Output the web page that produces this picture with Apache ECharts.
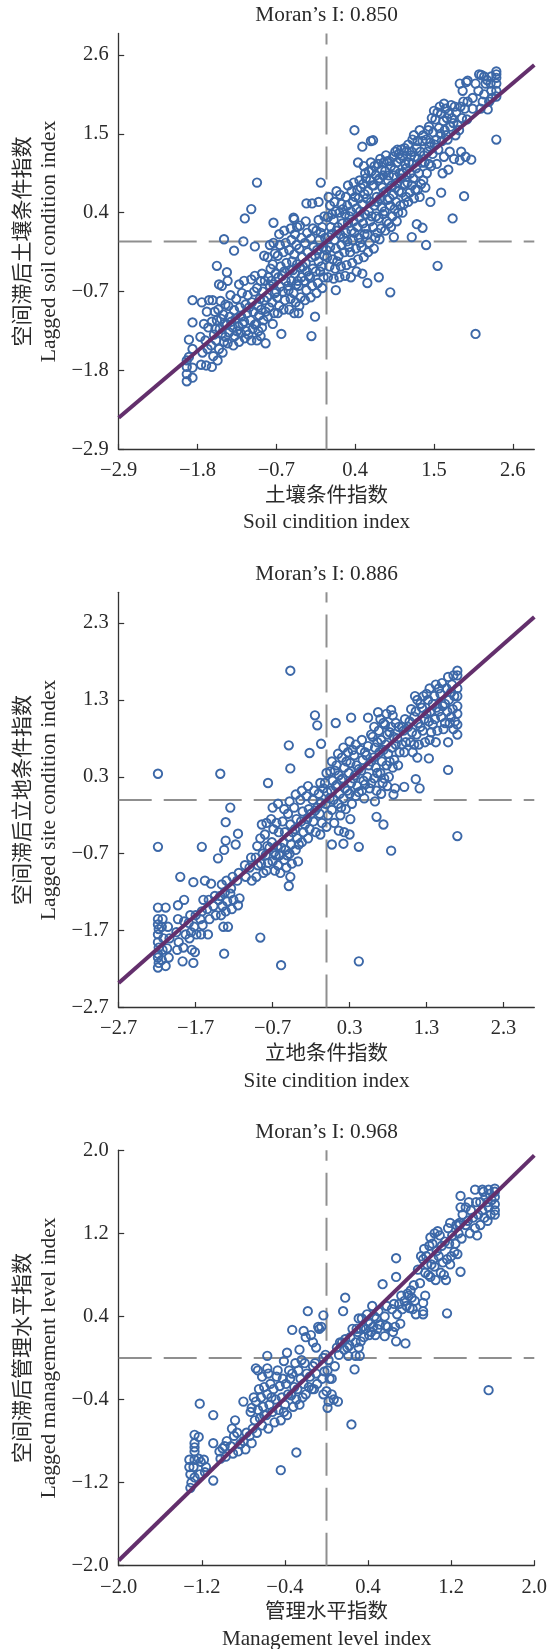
<!DOCTYPE html>
<html><head><meta charset="utf-8">
<script src="https://cdn.jsdelivr.net/npm/echarts@6/dist/echarts.min.js"></script>
<style>html,body{margin:0;padding:0;background:#fff}#c{width:556px;height:1649px}</style></head>
<body><div id="c"></div>
<script>
const soilTicks=[-2.9,-1.8,-0.7,0.4,1.5,2.6];
const siteTicks=[-2.7,-1.7,-0.7,0.3,1.3,2.3];
const mgmtTicks=[-2.0,-1.2,-0.4,0.4,1.2,2.0];
const soilLine=[[-2.9,-2.46],[2.9,2.46]];
const siteLine=[[-2.7,-2.38],[2.7,2.38]];
const mgmtLine=[[-2,-1.95],[2,1.95]];
const soilPoints=[[-0.97,0.82],[-0.08,0.82],[0.39,1.55],[0.5,1.32],[0.62,1.4],[0.65,1.41],[2.37,1.42],[2.08,-1.29],[1.55,-0.34],[0.89,-0.71],[0.73,-0.5],[0.57,-0.58],[0.13,-0.68],[-0.21,-1.32],[-0.16,-1.05],[1.76,0.32],[1.92,0.63],[1.6,0.68],[1.39,-0.05],[1.19,0.06],[0.94,0.06],[1.26,0.24],[1.34,0.19],[1.45,0.55],[-1.05,0.45],[-1.14,0.32],[-0.74,0.26],[-1.43,0.03],[-1.16,0],[-1.29,-0.13],[-1,-0.07],[-1.53,-0.34],[-1.39,-0.43],[-1.87,-0.82],[-1.87,-1.13],[-1.92,-1.37],[-0.63,-1.29],[-0.85,-1.42],[-0.39,-1],[-0.28,0.53],[-0.2,0.53],[-0.11,0.55],[-0.46,0.33],[-0.45,0.31],
[-1.95,-1.95],[-1.95,-1.85],[-1.95,-1.75],[-1.95,-1.66],[-1.87,-1.9],[-1.87,-1.76],[-1.92,-1.61],[-1.87,-1.5],
[-1.75,-1.72],[-1.73,-1.55],[-1.76,-1.33],[-1.71,-1.15],[-1.74,-0.85],[-1.68,-1.73],[-1.66,-1.5],[-1.69,-1.38],[-1.65,-1.2],[-1.67,-0.98],[-1.64,-0.82],[-1.6,-1.75],[-1.58,-1.6],[-1.61,-1.45],[-1.57,-1.3],[-1.6,-1.12],[-1.56,-0.98],[-1.59,-0.82],[-1.52,-1.66],[-1.5,-1.5],[-1.54,-1.38],[-1.49,-1.22],[-1.53,-1.1],[-1.51,-0.95],[-1.48,-0.83],[-1.5,-0.6],[-1.45,-1.55],[-1.43,-1.4],[-1.46,-1.28],[-1.42,-1.15],[-1.44,-1.02],[-1.41,-0.88],[-1.46,-0.62],
[-1.38,-1.42],[-1.36,-1.27],[-1.39,-1.16],[-1.35,-1.05],[-1.37,-0.9],[-1.34,-0.75],[-1.38,-0.55],[-1.3,-1.45],[-1.28,-1.32],[-1.31,-1.2],[-1.27,-1.08],[-1.29,-0.96],[-1.26,-0.8],[-1.22,-1.4],[-1.2,-1.28],[-1.23,-1.18],[-1.19,-1.05],[-1.21,-0.92],[-1.18,-0.72],[-1.22,-0.6],[-1.14,-1.35],[-1.12,-1.25],[-1.15,-1.12],[-1.11,-1],[-1.13,-0.88],[-1.1,-0.75],[-1.15,-0.55],[-1.05,-1.38],[-1.03,-1.22],[-1.06,-1.1],[-1.02,-0.98],[-1.04,-0.85],[-1.01,-0.7],[-1.05,-0.53],[-1.0,-0.48],[-0.97,-1.38],[-0.95,-1.25],[-0.98,-1.15],[-0.94,-1.03],[-0.96,-0.9],[-0.93,-0.8],[-0.97,-0.65],[-0.92,-0.55],
[-0.9,-1.2],[-0.88,-1.1],[-0.91,-0.95],[-0.87,-0.82],[-0.89,-0.7],[-0.86,-0.55],[-0.9,-0.45],[-0.87,-0.2],[-0.82,-1.05],[-0.8,-0.92],[-0.83,-0.78],[-0.79,-0.62],[-0.81,-0.5],[-0.78,-0.38],[-0.82,-0.22],[-0.79,-0.05],[-0.75,-1.15],[-0.73,-1],[-0.76,-0.85],[-0.72,-0.72],[-0.74,-0.6],[-0.71,-0.45],[-0.75,-0.32],[-0.72,-0.17],[-0.74,-0.02],[-0.68,-1],[-0.66,-0.9],[-0.69,-0.78],[-0.65,-0.63],[-0.67,-0.5],[-0.64,-0.35],[-0.68,-0.2],[-0.65,-0.05],[-0.66,0.1],[-0.6,-0.95],[-0.58,-0.82],[-0.61,-0.7],[-0.57,-0.55],[-0.59,-0.42],[-0.56,-0.3],[-0.6,-0.15],[-0.57,-0.02],[-0.59,0.15],
[-0.52,-0.95],[-0.5,-0.8],[-0.53,-0.68],[-0.49,-0.55],[-0.51,-0.4],[-0.48,-0.28],[-0.52,-0.12],[-0.49,0.02],[-0.5,0.18],[-0.45,-1],[-0.43,-0.85],[-0.46,-0.72],[-0.42,-0.6],[-0.44,-0.45],[-0.41,-0.32],[-0.45,-0.18],[-0.42,-0.05],[-0.44,0.1],[-0.41,0.2],[-0.38,-0.9],[-0.36,-0.78],[-0.39,-0.62],[-0.35,-0.5],[-0.37,-0.36],[-0.34,-0.22],[-0.38,-0.1],[-0.35,0.05],[-0.37,0.22],[-0.3,-0.82],[-0.28,-0.68],[-0.31,-0.55],[-0.27,-0.42],[-0.29,-0.3],[-0.26,-0.15],[-0.3,-0.02],[-0.27,0.12],[-0.29,0.28],[-0.22,-0.78],[-0.2,-0.62],[-0.23,-0.5],[-0.19,-0.38],[-0.21,-0.22],[-0.18,-0.08],[-0.22,0.04],[-0.19,0.18],
[-0.14,-0.72],[-0.12,-0.58],[-0.15,-0.42],[-0.11,-0.28],[-0.13,-0.12],[-0.1,0.02],[-0.14,0.15],[-0.11,0.3],[-0.06,-0.65],[-0.04,-0.5],[-0.07,-0.35],[-0.03,-0.2],[-0.05,-0.08],[-0.02,0.05],[-0.06,0.2],[-0.03,0.35],[0.02,-0.5],[0.04,-0.35],[0.01,-0.22],[0.05,-0.08],[0.03,0.06],[0.06,0.2],[0.02,0.34],[0.05,0.5],[0.03,0.62],[0.1,-0.52],[0.12,-0.38],[0.09,-0.25],[0.13,-0.1],[0.11,0.02],[0.14,0.15],[0.1,0.3],[0.13,0.42],[0.11,0.55],[0.14,0.7],[0.18,-0.5],[0.2,-0.35],[0.17,-0.2],[0.21,-0.05],[0.19,0.1],[0.22,0.25],[0.18,0.4],[0.21,0.52],[0.19,0.65],[0.26,-0.48],[0.28,-0.33],[0.25,-0.15],[0.29,0],[0.27,0.12],[0.3,0.26],[0.26,0.38],[0.29,0.5],[0.27,0.62],[0.3,0.78],
[0.34,-0.5],[0.36,-0.3],[0.33,-0.15],[0.37,0.02],[0.35,0.15],[0.38,0.28],[0.34,0.42],[0.37,0.55],[0.35,0.7],[0.38,0.82],[0.42,-0.42],[0.44,-0.25],[0.41,-0.1],[0.45,0.05],[0.43,0.2],[0.46,0.33],[0.42,0.46],[0.45,0.6],[0.43,0.72],[0.46,0.85],[0.44,1.1],[0.5,-0.45],[0.52,-0.22],[0.49,-0.08],[0.53,0.1],[0.51,0.25],[0.54,0.38],[0.5,0.52],[0.53,0.66],[0.51,0.8],[0.54,0.95],[0.52,1.05],[0.58,-0.15],[0.6,-0.02],[0.57,0.1],[0.61,0.28],[0.59,0.42],[0.62,0.55],[0.58,0.7],[0.61,0.85],[0.59,0.98],[0.62,1.1],[0.66,-0.1],[0.68,0.05],[0.65,0.2],[0.69,0.35],[0.67,0.5],[0.7,0.62],[0.66,0.78],[0.69,0.92],[0.67,1.05],
[0.74,0.03],[0.76,0.18],[0.73,0.32],[0.77,0.47],[0.75,0.6],[0.78,0.75],[0.74,0.88],[0.77,1],[0.75,1.15],[0.82,0.15],[0.84,0.28],[0.81,0.42],[0.85,0.58],[0.83,0.7],[0.86,0.85],[0.82,0.98],[0.85,1.12],[0.83,1.2],[0.9,0.2],[0.92,0.35],[0.89,0.5],[0.93,0.65],[0.91,0.78],[0.94,0.92],[0.9,1.05],[0.93,1.18],[0.98,0.28],[1,0.4],[0.97,0.55],[1.01,0.7],[0.99,0.82],[1.02,0.95],[0.98,1.1],[1.01,1.22],[0.99,1.28],[1.06,0.4],[1.08,0.52],[1.05,0.68],[1.09,0.8],[1.07,0.95],[1.1,1.08],[1.06,1.2],[1.09,1.3],[1.14,0.55],[1.16,0.68],[1.13,0.82],[1.17,0.95],[1.15,1.1],[1.18,1.2],[1.14,1.35],
[1.22,0.6],[1.24,0.72],[1.21,0.88],[1.25,1.02],[1.23,1.18],[1.26,1.3],[1.22,1.48],[1.3,0.62],[1.32,0.8],[1.29,0.95],[1.33,1.1],[1.31,1.25],[1.34,1.4],[1.3,1.55],[1.38,0.75],[1.4,0.95],[1.37,1.1],[1.41,1.25],[1.39,1.42],[1.42,1.55],[1.46,1.05],[1.48,1.22],[1.45,1.38],[1.49,1.52],[1.47,1.72],[1.5,1.82],[1.54,1.08],[1.56,1.28],[1.53,1.42],[1.57,1.58],[1.55,1.8],[1.58,1.88],[1.62,0.95],[1.64,1.18],[1.61,1.4],[1.65,1.55],[1.63,1.68],[1.66,1.85],[1.64,1.92],[1.7,1],[1.72,1.25],[1.69,1.42],[1.73,1.6],[1.71,1.78],[1.74,1.9],[1.78,1.15],[1.8,1.48],[1.77,1.65],[1.81,1.8],[1.79,1.88],[1.86,1.13],[1.88,1.25],[1.85,1.55],[1.89,1.72],[1.87,1.88],[1.9,2.1],[1.86,2.2],[1.94,1.18],[1.96,1.7],[1.93,1.85],[1.97,1.95],[1.95,2.22],[1.97,2.24],[2.02,1.14],[2.04,1.85],[2.04,2],[2.12,2.1],[2.13,2.33],[2.16,2.32],[2.15,1.85],[2.2,2.05],[2.22,2.2],[2.2,2.3],[2.24,2.25],[2.25,1.84],[2.3,2.1],[2.31,2],[2.29,2.2],[2.3,2.3],[2.37,2.02],[2.37,2.1],[2.37,2.2],[2.37,2.28],[2.37,2.33],[2.37,2.37]];
const soilDense=[[-1.55,-1.22],[-1.47,-1.08],[-1.41,-1.33],[-1.33,-1.12],[-1.25,-1.25],[-1.17,-1.15],[-1.09,-1.3],[-1.08,-0.92],[-1,-1.16],[-0.92,-1.32],[-0.85,-0.98],[-0.77,-0.55],[-0.7,-0.7],[-0.62,-0.48],[-0.54,-0.62],[-0.47,-0.4],[-0.4,-0.55],[-0.33,-0.35],[-0.25,-0.48],[-0.16,-0.2],[-0.09,-0.42],[-0.08,0.12],[0,-0.12],[0.07,0.1],[0.08,0.38],[0.15,-0.28],[0.16,0.2],[0.23,0.45],[0.24,0.05],[0.31,-0.08],[0.32,0.35],[0.39,0.12],[0.4,0.62],[0.47,-0.02],[0.47,0.42],[0.48,0.75],[0.55,0.18],[0.56,0.6],[0.55,0.88],[0.63,0.35],[0.64,0.78],[0.63,0.98],[0.71,0.12],[0.71,0.55],[0.72,0.85],[0.72,1.08],[0.79,0.38],[0.8,0.68],[0.79,0.92],[0.8,1.1],[0.87,0.25],[0.88,0.6],[0.87,0.92],[0.88,1.12],[0.95,0.45],[0.96,0.75],[0.95,1],[0.96,1.25],[1.03,0.5],[1.04,0.88],[1.03,1.15],[1.04,1.28],[1.11,0.62],[1.12,0.9],[1.11,1.02],[1.12,1.26],[1.19,0.78],[1.2,1.08],[1.19,1.25],[1.2,1.42],[1.27,0.72],[1.28,1.15],[1.27,1.4],[1.35,0.85],[1.36,1.2],[1.35,1.48],[1.43,1.08],[1.44,1.32],[1.43,1.6],[1.51,1.35],[1.52,1.7],[1.59,1.5],[1.6,1.78],[1.67,1.48],[1.68,1.72],[1.75,1.72],[1.83,1.62],[1.91,1.95],[2.08,2.2],[2.18,1.95],[2.27,1.95]];
const sitePoints=[[-0.47,1.68],[-2.19,0.34],[-1.38,0.34],[-0.76,0.22],[-1.25,-0.1],[-1.31,-0.29],[-1.15,-0.44],[-1.31,-0.53],[-1.18,-0.58],[-2.19,-0.61],[-1.62,-0.61],[-1.33,-0.65],[-1.41,-0.76],[-1.9,-1],[-1.73,-1.07],[-1.58,-1.05],[-1.5,-1.09],[-0.49,-1.12],[-0.86,-1.79],[-1.33,-2],[-0.59,-2.15],[0.42,-2.1],[0.84,-0.66],[0.42,-0.61],[0.22,-0.57],[0.07,-0.58],[1.7,-0.47],[1.58,0.39],[0.74,-0.32],[0.65,-0.22],[-0.15,1.1],[-0.12,0.97],[0.12,1],[0.32,1.07],[-0.49,0.71],[-0.07,0.73],[-0.22,0.61],[-0.47,0.41],[1.33,0.54],[1.16,0.27],[1.01,0.17],[1.21,0.15],[0.87,0.07],[0.54,1.07],[0.67,1.14],[0.84,1.17],[1.15,1.35],[-2.19,-1.4],[-2.09,-1.4],[-1.85,-1.3],[-1.93,-1.37],[-1.6,-1.3],[-1.87,-2.1],[-1.73,-2.12],[-2.09,-2.16],
[-2.19,-1.55],[-2.19,-1.62],[-2.18,-1.68],[-2.19,-1.75],[-2.19,-1.85],[-2.18,-1.92],[-2.19,-2],[-2.19,-2.05],[-2.18,-2.12],[-2.19,-2.18],[-2.13,-1.55],[-2.14,-1.65],[-2.12,-1.8],[-2.13,-1.95],[-2.14,-2.08],[-2.06,-1.65],[-2.04,-1.8],[-2.07,-1.93],[-2.05,-2.05],[-1.93,-1.55],[-1.95,-1.72],[-1.92,-1.85],[-1.94,-1.95],[-1.85,-1.58],[-1.83,-1.75],[-1.86,-1.92],[-1.77,-1.5],[-1.79,-1.6],[-1.76,-1.72],[-1.78,-1.8],[-1.75,-1.95],[-1.7,-1.5],[-1.72,-1.65],[-1.69,-1.75],[-1.71,-1.98],[-1.62,-1.45],[-1.64,-1.55],[-1.61,-1.63],[-1.63,-1.75],[-1.53,-1.3],[-1.55,-1.42],[-1.52,-1.55],[-1.54,-1.75],[-1.45,-1.25],[-1.47,-1.38],[-1.44,-1.5],[-1.36,-1.1],[-1.38,-1.25],[-1.35,-1.38],[-1.37,-1.5],[-1.34,-1.65],[-1.3,-1.05],[-1.32,-1.2],[-1.29,-1.32],[-1.31,-1.45],[-1.28,-1.65],[-1.22,-1],[-1.24,-1.15],[-1.21,-1.3],[-1.23,-1.42],[-1.14,-0.95],[-1.16,-1.05],[-1.13,-1.28],[-1.15,-1.37],[-1.06,-0.85],[-1.05,-1],[-0.98,-0.75],[-1,-0.88],[-0.97,-1.05],
[-0.9,-0.6],[-0.92,-0.75],[-0.89,-0.85],[-0.91,-1],[-0.84,-0.32],[-0.86,-0.5],[-0.83,-0.7],[-0.85,-0.83],[-0.82,-0.95],[-0.78,-0.3],[-0.8,-0.45],[-0.77,-0.6],[-0.79,-0.72],[-0.76,-0.82],[-0.78,-0.92],[-0.7,-0.1],[-0.72,-0.25],[-0.69,-0.38],[-0.71,-0.55],[-0.68,-0.68],[-0.7,-0.8],[-0.67,-0.92],[-0.63,-0.05],[-0.65,-0.3],[-0.62,-0.42],[-0.64,-0.6],[-0.61,-0.72],[-0.63,-0.85],[-0.6,-0.95],[-0.55,-0.12],[-0.57,-0.28],[-0.54,-0.42],[-0.56,-0.55],[-0.53,-0.65],[-0.55,-0.78],[-0.52,-0.88],[-0.48,-0.02],[-0.5,-0.18],[-0.47,-0.32],[-0.49,-0.48],[-0.46,-0.58],[-0.48,-0.7],[-0.45,-0.83],[-0.47,-1],[-0.4,0.07],[-0.42,-0.1],[-0.39,-0.25],[-0.41,-0.38],[-0.38,-0.5],[-0.4,-0.65],[-0.37,-0.8],[-0.32,0.12],[-0.34,0],[-0.31,-0.15],[-0.33,-0.28],[-0.3,-0.42],[-0.32,-0.55],[-0.24,0.18],[-0.26,0.05],[-0.23,-0.12],[-0.25,-0.25],[-0.22,-0.38],[-0.24,-0.5],[-0.16,0.12],[-0.18,0],[-0.15,-0.14],[-0.17,-0.28],[-0.14,-0.42],[-0.08,0.22],[-0.1,0.08],[-0.07,-0.04],[-0.09,-0.18],[-0.06,-0.3],[-0.08,-0.45],
[0,0.35],[-0.02,0.22],[0.01,0.1],[-0.01,-0.05],[0.02,-0.2],[0,-0.35],[0.07,0.5],[0.05,0.37],[0.08,0.25],[0.06,0.12],[0.09,0],[0.07,-0.13],[0.1,-0.3],[0.15,0.6],[0.13,0.45],[0.16,0.32],[0.14,0.2],[0.17,0.08],[0.15,-0.05],[0.18,-0.2],[0.16,-0.4],[0.22,0.68],[0.2,0.55],[0.23,0.42],[0.21,0.28],[0.24,0.15],[0.22,0.02],[0.25,-0.12],[0.23,-0.42],[0.3,0.76],[0.28,0.62],[0.31,0.48],[0.29,0.35],[0.32,0.22],[0.3,0.08],[0.33,-0.05],[0.31,-0.25],[0.3,-0.45],[0.38,0.72],[0.36,0.58],[0.39,0.45],[0.37,0.32],[0.4,0.18],[0.38,0.05],[0.46,0.78],[0.44,0.65],[0.47,0.52],[0.45,0.38],[0.48,0.25],[0.46,0.12],[0.49,0.02],[0.54,0.7],[0.52,0.58],[0.55,0.45],[0.53,0.3],[0.56,0.15],[0.62,0.95],[0.6,0.82],[0.63,0.68],[0.61,0.55],[0.64,0.42],[0.62,0.28],[0.65,0.12],[0.63,-0.02],
[0.7,1.05],[0.68,0.9],[0.71,0.78],[0.69,0.62],[0.72,0.5],[0.7,0.35],[0.73,0.22],[0.71,0.08],[0.78,1.12],[0.76,0.98],[0.79,0.85],[0.77,0.72],[0.8,0.6],[0.78,0.45],[0.81,0.3],[0.79,0.18],[0.86,1.1],[0.84,0.95],[0.87,0.82],[0.85,0.68],[0.88,0.52],[0.86,0.42],[0.89,0.15],[0.94,0.95],[0.92,0.8],[0.95,0.62],[0.93,0.45],[1.02,1.05],[1,0.9],[1.03,0.75],[1.01,0.62],[1.1,1.18],[1.08,1.02],[1.11,0.88],[1.09,0.75],[1.12,0.62],[1.18,1.3],[1.16,1.15],[1.19,1],[1.17,0.85],[1.2,0.72],[1.18,0.55],[1.26,1.35],[1.24,1.2],[1.27,1.05],[1.25,0.9],[1.28,0.75],[1.34,1.45],[1.32,1.3],[1.35,1.15],[1.33,1.02],[1.36,0.88],[1.34,0.78],[1.42,1.5],[1.4,1.35],[1.43,1.2],[1.41,1.05],[1.44,0.9],[1.42,0.75],[1.5,1.52],[1.48,1.38],[1.51,1.22],[1.49,1.08],[1.52,0.92],[1.58,1.6],[1.56,1.45],[1.59,1.3],[1.57,1.15],[1.6,1],[1.58,0.75],[1.65,1.62],[1.63,1.5],[1.66,1.35],[1.64,1.18],[1.67,1.02],[1.65,0.92],[1.7,1.68],[1.7,1.62],[1.7,1.45],[1.7,1.35],[1.7,1.22],[1.7,1.12],[1.7,0.98],[1.7,0.85]];
const siteDense=[[-0.74,-0.62],[-0.66,-0.72],[-0.59,-0.62],[-0.51,-0.72],[-0.44,-0.42],[-0.36,-0.58],[-0.28,-0.32],[-0.2,-0.18],[-0.12,-0.1],[-0.04,0.15],[0.04,0.02],[0.11,0.38],[0.12,0.18],[0.19,0.26],[0.19,-0.1],[0.26,0.5],[0.27,0.12],[0.34,0.65],[0.35,0.28],[0.42,0.4],[0.42,0.1],[0.5,0.62],[0.5,0.2],[0.58,0.85],[0.58,0.5],[0.58,0.22],[0.66,0.75],[0.66,0.35],[0.74,1],[0.74,0.65],[0.75,0.28],[0.82,0.88],[0.82,0.5],[0.9,1],[0.9,0.72],[0.98,0.95],[0.98,0.72],[1.06,0.95],[1.14,1.08],[1.14,0.72],[1.22,1.25],[1.22,0.95],[1.3,1.38],[1.3,1.12],[1.38,1.25],[1.38,0.98],[1.46,1.45],[1.46,1.15],[1.54,1.25],[1.54,1],[1.62,1.4],[1.62,1.08],[-1.25,-1.22],[-1.4,-1.3]];
const mgmtPoints=[[1.56,-0.31],[1.16,0.43],[1.29,0.83],[0.67,0.96],[0.67,0.78],[0.54,0.71],[0.18,0.58],[0.16,0.45],[-0.18,0.45],[-0.03,0.41],[-0.33,0.27],[0.76,0.14],[0.67,0.16],[0.56,0.21],[0.24,-0.64],[-0.29,-0.91],[-0.44,-1.08],[-1.22,-0.44],[-1.09,-0.55],[-1.27,-0.74],[-1.23,-0.76],[-1.09,-0.82],[-1.09,-1.18],[-0.88,-0.6],[-0.8,-0.42],[-0.57,0.02],[-0.38,0.05],[-0.26,0.08],[0.27,-0.11],[0.28,0.02],[0.32,0.02],[0.11,-0.42],[0.01,-0.48],
[-1.31,-1.25],[-1.3,-1.2],[-1.31,-1.12],[-1.32,-1.05],[-1.32,-0.98],[-1.27,-1.15],[-1.28,-1.05],[-1.27,-0.98],[-1.27,-0.9],[-1.27,-0.86],[-1.27,-0.82],[-1.22,-1.12],[-1.21,-1],[-1.23,-0.97],[-1.17,-1.1],[-1.16,-1.05],[-1.18,-0.98],[-1.02,-0.97],[-1.03,-0.9],[-1,-0.87],[-0.97,-0.95],[-0.98,-0.85],[-0.96,-0.8],[-0.9,-0.92],[-0.92,-0.85],[-0.89,-0.75],[-0.91,-0.68],[-0.85,-0.9],[-0.83,-0.83],[-0.86,-0.72],[-0.78,-0.88],[-0.8,-0.8],[-0.77,-0.72],[-0.72,-0.82],[-0.74,-0.75],[-0.71,-0.68],[-0.73,-0.52],[-0.72,-0.48],
[-0.67,-0.72],[-0.69,-0.6],[-0.66,-0.5],[-0.68,-0.42],[-0.65,-0.3],[-0.66,-0.12],[-0.68,-0.1],[-0.62,-0.65],[-0.64,-0.58],[-0.61,-0.47],[-0.63,-0.38],[-0.6,-0.28],[-0.62,-0.18],[-0.57,-0.1],[-0.56,-0.68],[-0.58,-0.55],[-0.55,-0.45],[-0.57,-0.35],[-0.54,-0.25],[-0.56,-0.15],[-0.5,-0.62],[-0.52,-0.52],[-0.49,-0.4],[-0.51,-0.3],[-0.48,-0.18],[-0.44,-0.6],[-0.46,-0.5],[-0.43,-0.38],[-0.45,-0.27],[-0.42,-0.2],[-0.38,-0.55],[-0.4,-0.45],[-0.37,-0.35],[-0.39,-0.25],[-0.36,-0.12],[-0.41,-0.03],[-0.32,-0.47],[-0.34,-0.36],[-0.31,-0.28],[-0.33,-0.15],[-0.3,-0.05],[-0.26,-0.45],[-0.28,-0.3],[-0.25,-0.2],[-0.27,-0.12],[-0.24,-0.02],[-0.2,-0.35],[-0.22,-0.25],[-0.19,-0.15],[-0.21,-0.05],[-0.2,0.2],[-0.22,0.26],[-0.14,-0.3],[-0.16,-0.18],[-0.13,-0.08],[-0.15,0.22],[-0.13,0.15],[-0.09,-0.25],[-0.1,-0.15],[-0.08,0.3],[-0.1,0.1],[-0.07,0.28],
[-0.03,-0.35],[-0.04,-0.2],[-0.02,-0.13],[-0.03,0],[-0.01,0.03],[-0.05,0.3],[0.02,-0.42],[0,-0.32],[0.03,-0.2],[0.01,-0.12],[0.02,-0.02],[0.07,-0.4],[0.05,-0.2],[0.08,-0.08],[0.12,0.03],[0.1,0.1],[0.13,0.15],[0.17,0.08],[0.15,0.15],[0.18,0.18],[0.22,0.12],[0.2,0.1],[0.23,0.2],[0.21,0.02],[0.3,0.25],[0.28,0.15],[0.31,0.1],[0.29,0.28],[0.31,0.38],[0.35,0.3],[0.33,0.16],[0.36,0.2],[0.34,0.38],[0.4,0.35],[0.38,0.28],[0.41,0.22],[0.39,0.42],[0.45,0.3],[0.43,0.25],[0.46,0.4],[0.44,0.5],[0.5,0.45],[0.48,0.38],[0.51,0.32],[0.49,0.28],[0.58,0.5],[0.56,0.4],[0.59,0.3],[0.57,0.31],[0.65,0.52],[0.63,0.47],[0.66,0.3],[0.64,0.25],[0.72,0.6],[0.7,0.52],[0.73,0.47],[0.71,0.33],[0.79,0.6],[0.77,0.5],[0.8,0.48],[0.78,0.62],[0.81,0.65],[0.85,0.55],[0.83,0.47],[0.86,0.42],[0.84,0.7],[0.95,0.6],[0.93,0.53],[0.93,0.45],[0.93,0.42],
[0.9,0.72],[0.88,0.85],[0.91,0.98],[0.95,0.82],[0.93,0.95],[0.96,0.98],[0.94,1.05],[1,0.78],[0.98,0.8],[1.01,0.9],[0.99,1.08],[1.02,1.1],[1,1.16],[1.05,0.75],[1.03,0.95],[1.06,1.03],[1.04,1.2],[1.07,1.22],[1.1,0.82],[1.08,0.98],[1.11,1.08],[1.09,1.18],[1.15,0.75],[1.13,0.8],[1.16,0.95],[1.14,1.12],[1.17,1.25],[1.2,0.98],[1.18,1.1],[1.21,1.18],[1.19,1.3],[1.26,1],[1.24,1.1],[1.27,1.2],[1.25,1.28],[1.28,1.3],[1.3,1.15],[1.28,1.28],[1.31,1.38],[1.29,1.45],[1.29,1.56],[1.38,1.2],[1.36,1.32],[1.39,1.42],[1.37,1.5],[1.45,1.18],[1.43,1.25],[1.46,1.38],[1.44,1.5],[1.43,1.62],[1.52,1.35],[1.5,1.42],[1.53,1.55],[1.51,1.6],[1.5,1.62],[1.58,1.38],[1.56,1.45],[1.59,1.52],[1.57,1.58],[1.56,1.62],[1.62,1.38],[1.62,1.42],[1.62,1.48],[1.62,1.55],[1.62,1.6],[1.62,1.63]];
const mgmtDense=[[-0.7,-0.38],[-0.6,-0.55],[-0.53,-0.38],[-0.47,-0.12],[-0.41,-0.52],[-0.35,-0.2],[-0.29,-0.4],[-0.23,-0.38],[-0.17,-0.28],[-0.11,-0.05],[-0.12,-0.3],[0.05,-0.35],[0.25,0.28],[0.33,0.28],[0.42,0.33],[0.47,0.22],[0.68,0.42],[0.75,0.55],[0.82,0.58],[0.97,0.9],[1.04,0.88],[1.12,0.92],[1.19,0.9],[1.23,1.02],[1.34,1.28],[1.34,1.45],[1.41,1.35],[1.48,1.5],[1.48,1.28],[1.55,1.5],[1.55,1.32]];

const fig=[
 {points:soilPoints.concat(soilDense),fit:soilLine,ticks:soilTicks,min:-2.9,max:2.9,interval:1.1,top:33.4,height:416,moran:"Moran’s I: 0.850",zhX:"土壤条件指数",enX:"Soil cindition index",zhY:"空间滞后土壤条件指数",enY:"Lagged soil condition index"},
 {points:sitePoints.concat(siteDense),fit:siteLine,ticks:siteTicks,min:-2.7,max:2.7,interval:1,top:592.3,height:415.2,moran:"Moran’s I: 0.886",zhX:"立地条件指数",enX:"Site cindition index",zhY:"空间滞后立地条件指数",enY:"Lagged site condition index"},
 {points:mgmtPoints.concat(mgmtDense),fit:mgmtLine,ticks:mgmtTicks,min:-2,max:2,interval:0.8,top:1150.2,height:415.5,moran:"Moran’s I: 0.968",zhX:"管理水平指数",enX:"Management level index",zhY:"空间滞后管理水平指数",enY:"Lagged management level index"}
];
const LEFT=118.7,WIDTH=415.6,SERIF='"Liberation Serif",serif',CJK='"Liberation Serif","Noto Sans CJK SC",serif';
const fmt=v=>v.toFixed(1).replace('-','\u2212');
const grid=[],xAxis=[],yAxis=[],series=[],graphic=[];
fig.forEach((f,i)=>{
 grid.push({left:LEFT,top:f.top,width:WIDTH,height:f.height});
 const ax=(margin)=>({type:'value',gridIndex:i,min:f.min,max:f.max,interval:f.interval,splitLine:{show:false},
  axisLine:{lineStyle:{color:'#333',width:1.3},onZero:false},
  axisTick:{inside:true,length:5.5,customValues:f.ticks,lineStyle:{color:'#333',width:1.2}},
  axisLabel:{customValues:f.ticks,formatter:fmt,color:'#2a2a2a',fontFamily:SERIF,fontSize:20.5,margin,hideOverlap:false}});
 xAxis.push(ax(11));yAxis.push(ax(10));
 const dash=(data)=>({type:'line',xAxisIndex:i,yAxisIndex:i,data,symbol:'none',silent:true,z:1,
  lineStyle:{color:'#8f8f8f',width:2,type:[33,12],dashOffset:0}});
 series.push(dash([[f.min,0],[f.max,0]]));
 series.push(dash([[0,f.min],[0,f.max]]));
 series.push({type:'scatter',xAxisIndex:i,yAxisIndex:i,data:f.points,symbol:'circle',symbolSize:8.4,z:3,
  itemStyle:{color:'rgba(255,255,255,0)',borderColor:'#3c68a8',borderWidth:1.9,opacity:1}});
 series.push({type:'line',xAxisIndex:i,yAxisIndex:i,data:f.fit,symbol:'none',z:4,lineStyle:{color:'#632f6c',width:4}});
 const cx=326.6,b=f.top+f.height,cy=f.top+f.height/2;
 const t=(text,x,y,size,rot,font)=>({type:'text',x,y,rotation:rot||0,z:10,style:{text,fill:'#2a2a2a',font:`${size}px ${font||SERIF}`,textAlign:'center',textVerticalAlign:'middle'}});
 graphic.push(t(f.moran,cx,f.top-18,21.3));
 graphic.push(t(f.zhX,cx,b+47,20.5,0,CJK));
 graphic.push(t(f.enX,cx,b+73.5,21.2));
 graphic.push(t(f.zhY,23,cy,21,Math.PI/2,CJK));
 graphic.push(t(f.enY,49,cy,21.6,Math.PI/2));
});
const chart=echarts.init(document.getElementById('c'),null,{renderer:'canvas'});
chart.setOption({animation:false,backgroundColor:'#fff',grid,xAxis,yAxis,series,graphic});
</script></body></html>
